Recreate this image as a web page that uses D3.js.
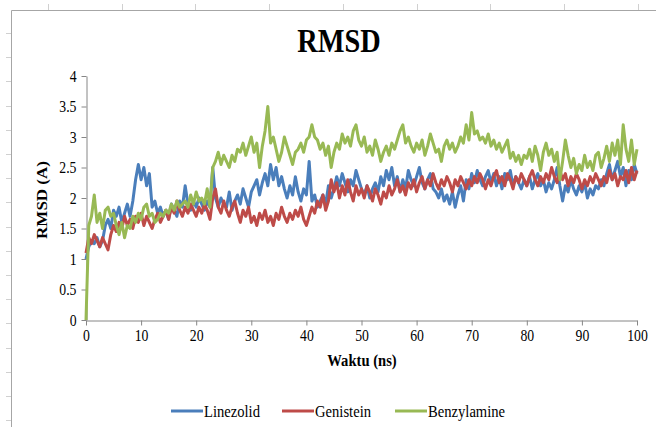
<!DOCTYPE html>
<html>
<head>
<meta charset="utf-8">
<script src="https://cdn.jsdelivr.net/npm/d3@7"></script>
<style>
  body { margin: 0; background: #fff; }
  text { font-family: "Liberation Serif", "Times New Roman", serif; fill: #000; }
</style>
</head>
<body>
<svg id="canvas" width="656" height="427"></svg>
<script>
// time axis, one sample every 0.5 ns
const waktu = d3.range(0, 100.001, 0.5);

const linezolid = [
  1.00, 1.20, 1.30, 1.25, 1.35, 1.20, 1.30, 1.55, 1.65, 1.50,
  1.80, 1.70, 1.85, 1.60, 1.75, 1.90, 1.70, 1.95, 2.30, 2.55,
  2.30, 2.50, 2.20, 2.40, 1.85, 1.95, 1.75, 1.85, 1.70, 1.80,
  1.65, 1.90, 1.80, 1.70, 1.95, 1.85, 2.20, 1.90, 1.80, 1.95,
  1.85, 2.00, 1.90, 1.80, 1.95, 1.85, 2.50, 2.00, 1.85, 2.00,
  1.90, 1.85, 2.10, 1.80, 1.95, 2.05, 1.90, 2.15, 2.00, 1.85,
  2.10, 2.20, 2.30, 2.05, 2.25, 2.40, 2.20, 2.55, 2.30, 2.50,
  2.20, 2.35, 2.15, 2.00, 2.20, 2.05, 2.35, 2.10, 1.95, 2.15,
  2.05, 2.60, 1.95, 2.05, 1.85, 1.95, 2.05, 1.90, 2.20, 2.00,
  2.15, 2.35, 2.20, 2.40, 2.25, 2.10, 2.30, 2.20, 2.45, 2.30,
  2.15, 2.05, 2.20, 2.00, 2.15, 2.25, 2.10, 2.35, 2.20, 2.45,
  2.30, 2.50, 2.20, 2.35, 2.10, 2.30, 2.15, 2.45, 2.30, 2.20,
  2.35, 2.50, 2.25, 2.15, 2.30, 2.40, 2.15, 2.10, 2.00, 2.15,
  1.95, 2.05, 1.90, 2.10, 1.85, 2.05, 2.20, 1.95, 2.30, 2.15,
  2.40, 2.25, 2.45, 2.30, 2.20, 2.35, 2.45, 2.25, 2.40, 2.20,
  2.35, 2.15, 2.40, 2.30, 2.45, 2.20, 2.35, 2.25, 2.15, 2.30,
  2.20, 2.35, 2.15, 2.30, 2.40, 2.20, 2.30, 2.10, 2.25, 2.15,
  2.30, 2.50, 2.20, 1.95, 2.20, 2.10, 2.30, 2.15, 2.05, 2.20,
  2.10, 2.25, 2.00, 2.15, 2.05, 2.20, 2.15, 2.30, 2.20, 2.40,
  2.55, 2.30, 2.45, 2.60, 2.35, 2.50, 2.20, 2.45, 2.30, 2.55,
  2.40
];

const genistein = [
  1.10, 1.35, 1.25, 1.40, 1.30, 1.20, 1.35, 1.25, 1.15, 1.40,
  1.55, 1.45, 1.60, 1.50, 1.70, 1.55, 1.65, 1.50, 1.70, 1.60,
  1.75, 1.55, 1.70, 1.60, 1.50, 1.65, 1.75, 1.60, 1.70, 1.80,
  1.65, 1.85, 1.75, 1.95, 1.80, 1.70, 1.85, 1.75, 1.90, 1.80,
  1.70, 1.85, 1.75, 1.90, 1.80, 1.65, 2.00, 2.15, 1.85, 1.75,
  1.95, 1.80, 1.70, 1.85, 1.95, 1.75, 1.60, 1.80, 1.70, 1.85,
  1.60, 1.70, 1.55, 1.75, 1.65, 1.80, 1.60, 1.70, 1.55, 1.75,
  1.65, 1.85, 1.70, 1.60, 1.75, 1.65, 1.80, 1.70, 1.85, 1.65,
  1.55, 1.70, 1.85, 1.75, 1.95, 1.85, 2.05, 1.80, 1.95, 2.30,
  2.10, 2.25, 2.00, 2.20, 2.05, 2.30, 2.10, 1.95, 2.20, 2.05,
  2.15, 2.00, 2.20, 2.10, 1.95, 2.15, 2.05, 1.90, 2.10, 2.00,
  2.20, 2.05, 2.15, 2.30, 2.10, 2.20, 2.05, 2.25, 2.15, 2.30,
  2.10, 2.25, 2.35, 2.15, 2.30, 2.20, 2.40, 2.25, 2.15, 2.30,
  2.20, 2.35, 2.25, 2.10, 2.30, 2.20, 2.35, 2.25, 2.15, 2.30,
  2.20, 2.35, 2.25, 2.40, 2.30, 2.15, 2.30, 2.20, 2.35, 2.45,
  2.25, 2.35, 2.20, 2.40, 2.30, 2.15, 2.35, 2.25, 2.40, 2.30,
  2.20, 2.35, 2.45, 2.30, 2.20, 2.35, 2.25, 2.40, 2.30, 2.50,
  2.35, 2.25, 2.45, 2.30, 2.40, 2.20, 2.35, 2.25, 2.40, 2.30,
  2.15, 2.30, 2.20, 2.35, 2.25, 2.40, 2.30, 2.20, 2.35, 2.25,
  2.45, 2.30, 2.40, 2.20, 2.35, 2.30, 2.45, 2.25, 2.50, 2.30,
  2.45
];

const benzylamine = [
  0.00, 1.55, 1.70, 2.05, 1.60, 1.75, 1.50, 1.80, 1.85, 1.70,
  1.75, 1.55, 1.40, 1.60, 1.35, 1.55, 1.50, 1.70, 1.60, 1.75,
  1.65, 1.85, 1.90, 1.70, 1.75, 1.60, 1.65, 1.75, 1.70, 1.80,
  1.75, 1.90, 1.80, 1.95, 1.85, 1.90, 1.95, 1.85, 2.05, 1.90,
  2.10, 1.95, 2.00, 1.90, 2.15, 1.85, 2.50, 2.60, 2.75, 2.55,
  2.70, 2.60, 2.50, 2.70, 2.60, 2.80, 2.75, 2.90, 2.70, 2.85,
  3.00, 2.75, 2.90, 2.50, 2.85, 3.10, 3.50, 2.90, 3.00, 2.80,
  2.60, 2.75, 3.00, 2.85, 2.70, 2.55, 2.75, 2.80, 2.90, 2.75,
  2.95, 3.00, 3.20, 3.00, 2.95, 2.80, 2.90, 2.70, 2.85, 2.50,
  2.75, 2.90, 2.80, 3.05, 2.90, 3.00, 2.85, 3.10, 3.20, 2.95,
  2.85, 3.00, 2.75, 2.85, 2.70, 2.95, 2.80, 2.60, 2.75, 2.85,
  2.70, 2.90, 2.80, 2.95, 3.10, 3.20, 2.90, 3.00, 2.85, 2.75,
  2.90, 2.80, 2.95, 2.70, 2.85, 3.05, 2.90, 2.75, 2.80, 2.60,
  2.85, 2.95, 2.80, 2.90, 2.75, 2.85, 3.00, 2.90, 3.20, 2.95,
  3.40, 3.05, 3.10, 2.95, 3.00, 2.90, 3.05, 2.85, 2.95, 2.80,
  2.90, 2.75, 2.85, 2.95, 2.65, 2.75, 2.60, 2.70, 2.55, 2.70,
  2.65, 2.80, 2.60, 2.85, 2.70, 2.45, 2.75, 2.90, 2.70, 2.80,
  2.60, 2.75, 2.30, 2.60, 2.95, 2.70, 2.50, 2.65, 2.40, 2.55,
  2.45, 2.70, 2.50, 2.60, 2.45, 2.70, 2.75, 2.50, 2.65, 2.85,
  2.60, 2.90, 2.70, 2.95, 2.55, 3.20, 2.80, 2.60, 2.95, 2.55,
  2.80
];

const seriesNames = ["Linezolid", "Genistein", "Benzylamine"];
const seriesColors = ["#4a7ebb", "#be4b48", "#98b954"];
const yTicks = [0, 0.5, 1, 1.5, 2, 2.5, 3, 3.5, 4];
const xTicks = [0, 10, 20, 30, 40, 50, 60, 70, 80, 90, 100];

// the picture is a little squeezed sideways, so the text is narrow and tall
const squeeze = 0.86;

const svg = d3.select("svg#canvas");

// chart area frame with the faint ruler marks round it
svg.append("path")
  .attr("d", "M11.5,427V10.5H656")
  .attr("fill", "none")
  .attr("stroke", "#a6a6a6");
svg.selectAll("line.rl")
  .data(d3.range(33, 427, 24.2))
  .join("line")
  .attr("x1", 6).attr("x2", 11)
  .attr("y1", d => Math.round(d) + 0.5).attr("y2", d => Math.round(d) + 0.5)
  .attr("stroke", "#d0d0d0");
svg.selectAll("line.rt")
  .data(d3.range(48, 656, 73.7))
  .join("line")
  .attr("y1", 4).attr("y2", 10)
  .attr("x1", d => Math.round(d) + 0.5).attr("x2", d => Math.round(d) + 0.5)
  .attr("stroke", "#d0d0d0");

const x = d3.scaleLinear().domain([0, 100]).range([86, 637]);
const y = d3.scaleLinear().domain([0, 4]).range([320, 76]);

const xAxis = svg.append("g")
  .attr("transform", "translate(0,320.5)")
  .call(d3.axisBottom(x).tickValues(xTicks).tickSize(5).tickSizeOuter(0).tickPadding(4));
const yAxis = svg.append("g")
  .attr("transform", "translate(86.5,0)")
  .call(d3.axisLeft(y).tickValues(yTicks).tickSize(5).tickSizeOuter(0).tickPadding(5).tickFormat(d3.format("")));

[xAxis, yAxis].forEach(a => {
  a.select(".domain").attr("stroke", "#868686");
  a.selectAll(".tick line").attr("stroke", "#868686");
  a.selectAll("text")
    .attr("font-family", "'Liberation Serif', serif")
    .attr("font-size", 16)
    .attr("fill", "#000");
});
yAxis.selectAll(".tick text")
  .attr("x", -10 / squeeze)
  .attr("transform", `scale(${squeeze},1)`);
xAxis.selectAll(".tick text")
  .attr("transform", `scale(${squeeze},1)`);

const line = d3.line()
  .x((d, i) => x(waktu[i]))
  .y(d => y(d));

svg.selectAll("path.series")
  .data([linezolid, genistein, benzylamine])
  .join("path")
  .attr("class", "series")
  .attr("d", line)
  .attr("fill", "none")
  .attr("stroke", (_, i) => seriesColors[i])
  .attr("stroke-width", 3)
  .attr("stroke-linejoin", "round");

svg.append("text")
  .attr("transform", `translate(339,52) scale(${squeeze},1)`)
  .attr("text-anchor", "middle")
  .attr("font-size", 33)
  .attr("font-weight", "bold")
  .text("RMSD");

svg.append("text")
  .attr("transform", `translate(47,200) rotate(-90) scale(1,${squeeze})`)
  .attr("text-anchor", "middle")
  .attr("font-size", 17)
  .attr("font-weight", "bold")
  .text("RMSD  (A)");

svg.append("text")
  .attr("transform", `translate(362,366) scale(${squeeze},1)`)
  .attr("text-anchor", "middle")
  .attr("font-size", 17)
  .attr("font-weight", "bold")
  .text("Waktu  (ns)");

// legend
const legendX = [171, 282, 395];
const legend = svg.selectAll("g.legend")
  .data(seriesNames)
  .join("g")
  .attr("class", "legend")
  .attr("transform", (_, i) => `translate(${legendX[i]},411)`);
legend.append("line")
  .attr("x1", 0).attr("x2", 32)
  .attr("stroke", (_, i) => seriesColors[i])
  .attr("stroke-width", 3);
legend.append("text")
  .attr("transform", `translate(33,6) scale(${squeeze},1)`)
  .attr("font-size", 17)
  .text(d => d);
</script>
</body>
</html>
